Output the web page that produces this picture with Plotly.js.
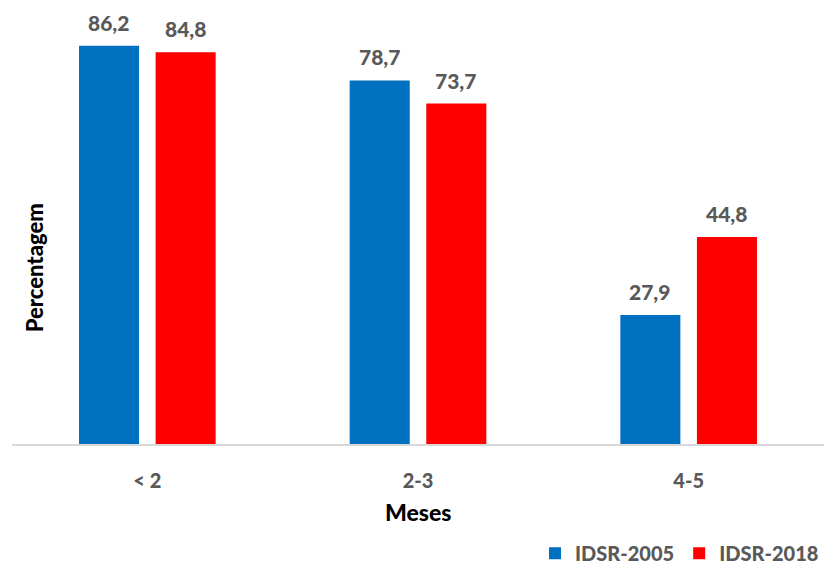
<!DOCTYPE html>
<html>
<head>
<meta charset="utf-8">
<script src="https://cdn.plot.ly/plotly-3.0.1.min.js"></script>
<style>
  html, body { margin: 0; padding: 0; background: #ffffff; }
  #chart { width: 836px; height: 565px; }
</style>
</head>
<body>
<div id="chart"></div>
<script>
// Age groups (months) and percentages for the two survey rounds
const categories = ['< 2', '2-3', '4-5'];
const seriesNames = ['IDSR-2005', 'IDSR-2018'];
const values2005 = [86.2, 78.7, 27.9];
const values2018 = [84.8, 73.7, 44.8];
const seriesColors = ['#0070C0', '#FF0000'];

const FONT = 'Lato, "Open Sans", "Liberation Sans", sans-serif';
const GREY = '#595959';
const HEAVY = 900;

const fmt = v => v.toFixed(1).replace('.', ',');

const seriesValues = [values2005, values2018];

const traces = seriesValues.map((vals, i) => ({
  type: 'bar',
  name: seriesNames[i],
  x: categories,
  y: vals,
  marker: { color: seriesColors[i] },
  hoverinfo: 'skip'
}));

// Value labels above each bar, positioned on the bar's own value
const annotations = [];
seriesValues.forEach((vals, i) => {
  vals.forEach((v, j) => {
    annotations.push({
      x: categories[j],
      y: v,
      xref: 'x',
      yref: 'y',
      xshift: (i === 0 ? -1 : 1) * 38.25,
      yshift: 9,
      yanchor: 'bottom',
      text: fmt(v),
      showarrow: false,
      font: { family: FONT, size: 21, color: GREY, weight: HEAVY }
    });
  });
});

annotations.push({
  xref: 'paper', yref: 'paper',
  x: 0.028, y: 0.415,
  xanchor: 'center', yanchor: 'middle',
  text: 'Percentagem',
  textangle: -90,
  showarrow: false,
  font: { family: FONT, size: 22, color: '#000000', weight: HEAVY }
});

annotations.push({
  xref: 'paper', yref: 'paper',
  x: 0.5, y: -0.16,
  xanchor: 'center', yanchor: 'middle',
  text: 'Meses',
  showarrow: false,
  font: { family: FONT, size: 23, color: '#000000', weight: HEAVY }
});

const layout = {
  width: 836,
  height: 565,
  margin: { l: 12, r: 12, t: 19, b: 121 },
  paper_bgcolor: '#ffffff',
  plot_bgcolor: '#ffffff',
  barmode: 'group',
  bargap: 0.434,
  bargroupgap: 0.216,
  showlegend: true,
  legend: {
    orientation: 'h',
    x: 1.0,
    xanchor: 'right',
    xref: 'paper',
    yref: 'container',
    y: 0.021,
    yanchor: 'middle',
    font: { family: FONT, size: 20, color: GREY, weight: HEAVY },
    itemwidth: 30,
    tracegroupgap: 0
  },
  xaxis: {
    type: 'category',
    showline: true,
    linecolor: '#D9D9D9',
    linewidth: 2,
    ticks: '',
    showgrid: false,
    zeroline: false,
    ticklabelstandoff: 18,
    tickfont: { family: FONT, size: 20, color: GREY, weight: HEAVY },
    fixedrange: true
  },
  yaxis: {
    range: [0, 92],
    visible: false,
    showgrid: false,
    zeroline: false,
    fixedrange: true
  },
  annotations: annotations
};

Plotly.newPlot('chart', traces, layout, { displayModeBar: false, staticPlot: true });
</script>
</body>
</html>
